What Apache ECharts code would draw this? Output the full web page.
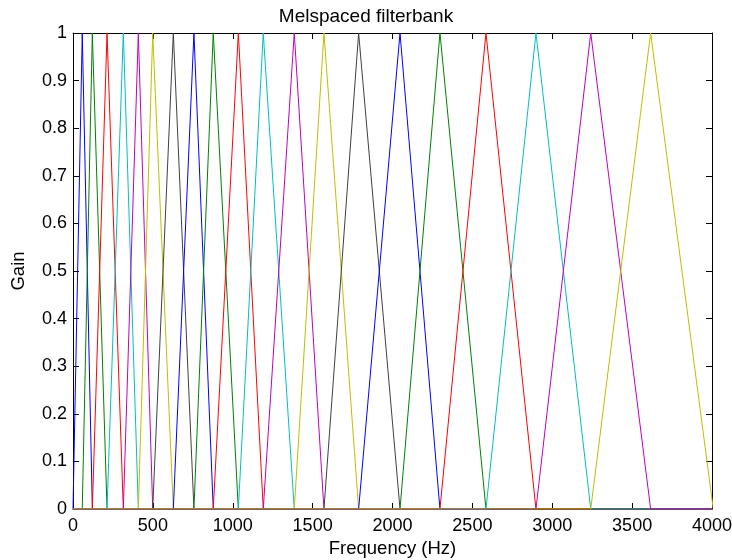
<!DOCTYPE html>
<html>
<head>
<meta charset="utf-8">
<script src="https://cdn.jsdelivr.net/npm/echarts@6/dist/echarts.min.js"></script>
<style>
  html, body { margin: 0; padding: 0; background: #fff; }
  #chart { width: 732px; height: 560px; }
</style>
</head>
<body>
<div id="chart"></div>
<script>
// Centre frequencies (Hz) of the 20 triangular mel filters
const centers = [58, 121, 213, 315, 409, 499, 628, 757, 878, 1035,
                 1191, 1385, 1571, 1788, 2047, 2297, 2585, 2898, 3241, 3616];
// Outer band edges: lower edge of the first filter, upper edge of the last
const lowEdge = 0;
const highEdge = 4008;
// Classic MATLAB line colour cycle
const colorCycle = ['#0000ff', '#008000', '#ff0000', '#00bfbf', '#bf00bf', '#bfbf00', '#404040'];
// Axis ticks
const xTicks = [0, 500, 1000, 1500, 2000, 2500, 3000, 3500, 4000];
const yTicks = [0, 0.1, 0.2, 0.3, 0.4, 0.5, 0.6, 0.7, 0.8, 0.9, 1];

const xMin = xTicks[0], xMax = xTicks[xTicks.length - 1];
const edges = [lowEdge].concat(centers, [highEdge]);

// Each filter: zero outside its band, rising to 1 at its centre
const series = centers.map((c, i) => {
  const lo = edges[i], hi = edges[i + 2];
  const pts = [[xMin, 0], [lo, 0], [c, 1], [hi, 0]];
  if (hi < xMax) pts.push([xMax, 0]);
  return {
    type: 'line',
    data: pts,
    showSymbol: false,
    symbol: 'none',
    clip: true,
    animation: false,
    lineStyle: { color: colorCycle[i % colorCycle.length], width: 1 },
    z: 2 + i * 0.01
  };
});

const font = 'Liberation Sans, Arial, Helvetica, sans-serif';
const axisLine = { show: true, onZero: false, lineStyle: { color: '#000', width: 1 } };
const tick = { show: true, inside: true, length: 6, lineStyle: { color: '#000', width: 1 } };

const chart = echarts.init(document.getElementById('chart'), null, { renderer: 'canvas' });
chart.setOption({
  backgroundColor: '#fff',
  animation: false,
  title: {
    text: 'Melspaced filterbank',
    left: 'center',
    top: 2,
    textStyle: { fontFamily: font, fontSize: 19, fontWeight: 'normal', color: '#000' }
  },
  grid: {
    left: 73, right: 20, top: 33, bottom: 51,
    containLabel: false, outerBoundsMode: 'none'
  },
  xAxis: [
    {
      type: 'value', min: xMin, max: xMax, interval: xTicks[1] - xTicks[0],
      position: 'bottom',
      name: 'Frequency (Hz)', nameLocation: 'middle', nameGap: 27,
      nameTextStyle: { fontFamily: font, fontSize: 18.5, color: '#000' },
      axisLine: axisLine, axisTick: tick,
      axisLabel: {
        fontFamily: font, fontSize: 18, color: '#000', margin: 8,
        formatter: v => String(v)
      },
      splitLine: { show: false }
    },
    {
      type: 'value', min: xMin, max: xMax, interval: xTicks[1] - xTicks[0],
      position: 'top',
      axisLine: axisLine, axisTick: tick,
      axisLabel: { show: false }, splitLine: { show: false }
    }
  ],
  yAxis: [
    {
      type: 'value', min: yTicks[0], max: yTicks[yTicks.length - 1], interval: 0.1,
      position: 'left',
      name: 'Gain', nameLocation: 'middle', nameGap: 45, nameRotate: 90,
      nameTextStyle: { fontFamily: font, fontSize: 18.5, color: '#000' },
      axisLine: axisLine, axisTick: tick,
      axisLabel: {
        fontFamily: font, fontSize: 18, color: '#000', margin: 6,
        formatter: v => String(Math.round(v * 10) / 10)
      },
      splitLine: { show: false }
    },
    {
      type: 'value', min: yTicks[0], max: yTicks[yTicks.length - 1], interval: 0.1,
      position: 'right',
      axisLine: axisLine, axisTick: tick,
      axisLabel: { show: false }, splitLine: { show: false }
    }
  ],
  series: series
});
</script>
</body>
</html>
